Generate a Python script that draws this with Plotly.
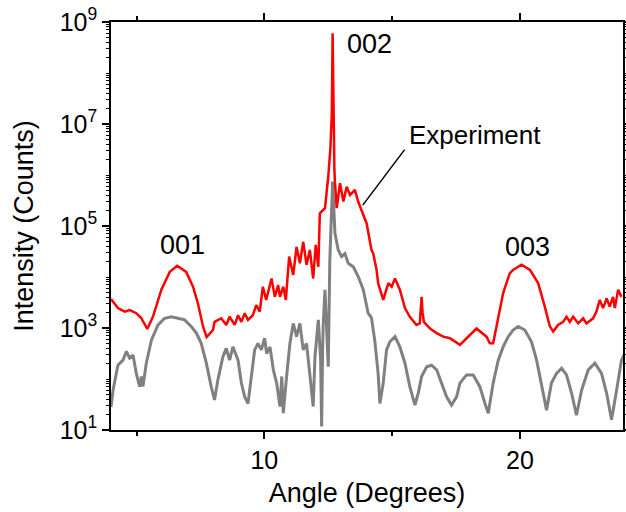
import numpy as np
import plotly.graph_objects as go

# ---- data (angle in degrees, intensity as log10 counts) ----
red_angle = [4.00, 4.27, 4.54, 4.73, 4.99, 5.19, 5.42, 5.64, 5.97, 6.30, 6.59, 6.94, 7.21, 7.40,
             7.60, 7.74, 7.99, 8.05, 8.31, 8.51, 8.64, 8.84, 8.97, 9.10, 9.23, 9.36, 9.55, 9.68,
             9.82, 9.94, 10.07, 10.28, 10.41, 10.54, 10.61, 10.74, 10.84, 10.97, 11.13, 11.26,
             11.39, 11.52, 11.65, 11.78, 11.91, 12.01, 12.11, 12.17, 12.37, 12.50, 12.58, 12.64,
             12.67, 12.70, 12.74, 12.76, 12.83, 12.96, 13.09, 13.22, 13.35, 13.54, 13.67, 13.80,
             14.00, 14.19, 14.26, 14.39, 14.45, 14.65, 14.85, 14.98, 15.11, 15.30, 15.50, 15.69,
             15.95, 16.08, 16.12, 16.15, 16.19, 16.24, 16.48, 16.74, 17.00, 17.26, 17.65, 17.91,
             18.30, 18.69, 18.82, 18.95, 19.15, 19.34, 19.47, 19.60, 19.73, 20.06, 20.39, 20.71,
             20.97, 21.17, 21.30, 21.49, 21.69, 21.82, 21.95, 22.08, 22.28, 22.47, 22.60, 22.86,
             22.99, 23.12, 23.25, 23.39, 23.51, 23.64, 23.71, 23.84, 23.97]
red_log10 = [3.57, 3.39, 3.32, 3.35, 3.29, 3.19, 2.98, 3.22, 3.75, 4.10, 4.22, 4.10, 3.81, 3.48,
             3.03, 2.82, 2.96, 3.12, 3.19, 3.06, 3.22, 3.06, 3.25, 3.12, 3.29, 3.16, 3.25, 3.45,
             3.32, 3.81, 3.55, 3.97, 3.61, 3.84, 3.61, 3.81, 3.55, 4.40, 4.04, 4.59,
             4.27, 4.69, 4.24, 4.53, 3.97, 4.63, 4.20, 5.25, 5.35, 5.97, 6.50, 7.20,
             8.78, 7.00, 6.10, 5.87, 5.35, 5.84, 5.48, 5.77, 5.61, 5.71, 5.48, 5.31,
             5.05, 4.53, 4.46, 4.14, 3.88, 3.55, 3.88, 3.81, 3.97, 3.75, 3.39, 3.22,
             3.06, 3.09, 3.40, 3.61, 3.30, 3.12, 2.99, 2.90, 2.83, 2.80, 2.67, 2.80,
             2.99, 2.83, 2.70, 2.70, 3.22, 3.68, 3.88, 4.07, 4.14, 4.24, 4.14, 3.88,
             3.42, 3.03, 2.93, 3.06, 3.12, 3.22, 3.12, 3.22, 3.09, 3.19, 3.09, 3.19,
             3.32, 3.55, 3.39, 3.58, 3.42, 3.61, 3.39, 3.75, 3.61]

gray_angle = [4.00, 4.08, 4.27, 4.47, 4.60, 4.73, 4.86, 4.99, 5.12, 5.19, 5.25, 5.38, 5.58, 5.84,
              6.10, 6.36, 6.62, 6.88, 7.14, 7.34, 7.53, 7.73, 7.92, 8.05, 8.18, 8.38, 8.51, 8.64,
              8.77, 8.97, 9.10, 9.23, 9.36, 9.49, 9.62, 9.75, 9.88, 10.01, 10.09, 10.22, 10.35,
              10.48, 10.61, 10.68, 10.74, 10.87, 11.00, 11.13, 11.26, 11.39, 11.52, 11.65, 11.78,
              11.91, 11.98, 12.11, 12.20, 12.24, 12.28, 12.30, 12.37, 12.44, 12.50, 12.56, 12.67,
              12.76, 12.89, 13.02, 13.15, 13.28, 13.48, 13.67, 13.87, 14.06, 14.19, 14.32, 14.45,
              14.52, 14.65, 14.78, 14.91, 15.11, 15.30, 15.50, 15.69, 15.89, 16.02, 16.15, 16.35,
              16.54, 16.74, 16.93, 17.13, 17.32, 17.52, 17.65, 17.91, 18.17, 18.43, 18.63, 18.76,
              18.95, 19.15, 19.34, 19.54, 19.73, 19.93, 20.19, 20.45, 20.65, 20.84, 21.04, 21.23,
              21.43, 21.63, 21.82, 22.02, 22.21, 22.41, 22.67, 22.93, 23.19, 23.39, 23.58, 23.78,
              23.97, 24.10]
gray_log10 = [1.45, 1.78, 2.27, 2.37, 2.54, 2.41, 2.47, 2.11, 1.85, 2.05, 1.85, 2.31, 2.76, 3.06,
              3.19, 3.22, 3.19, 3.16, 3.03, 2.90, 2.70, 2.31, 1.85, 1.59, 1.98, 2.44, 2.60, 2.37,
              2.63, 2.37, 1.92, 1.65, 1.52, 2.05, 2.57, 2.70, 2.57, 2.80, 2.50, 2.63, 2.18,
              1.92, 1.46, 2.05, 1.33, 2.05, 2.70, 3.09, 2.83, 3.09, 2.57, 2.70, 2.05,
              1.46, 2.44, 3.16, 2.40, 1.07, 2.60, 3.03, 3.75, 3.00, 2.24, 4.33, 5.87,
              4.86, 4.53, 4.40, 4.46, 4.27, 4.20, 4.01, 3.75, 3.29, 3.20, 2.75, 2.11,
              1.52, 1.92, 2.57, 2.73, 2.83, 2.63, 2.31, 1.85, 1.49, 1.72, 2.05, 2.24,
              2.27, 2.18, 1.92, 1.65, 1.49, 1.65, 1.92, 2.08, 2.08, 1.85, 1.52, 1.33,
              1.92, 2.37, 2.63, 2.83, 2.96, 3.03, 2.96, 2.73, 2.37, 1.92, 1.39, 1.92,
              2.11, 2.21, 2.08, 1.72, 1.29, 1.78, 2.18, 2.31, 2.11, 1.72, 1.20, 1.78,
              2.37, 2.50]

y_tick_exponents = [1, 3, 5, 7, 9]
y_tick_labels = ["10<sup>1</sup>", "10<sup>3</sup>", "10<sup>5</sup>", "10<sup>7</sup>", "10<sup>9</sup>"]
x_tick_values = [10, 20]
x_minor_values = [5, 15]

peak_labels = ["001", "002", "003"]
peak_label_x = [6.78, 14.13, 20.31]
peak_label_logy = [4.63, 8.57, 4.58]

FONT = "Arial, Liberation Sans, sans-serif"

red_I = np.power(10.0, red_log10)
gray_I = np.power(10.0, gray_log10)

fig = go.Figure()
fig.add_trace(go.Scatter(x=gray_angle, y=gray_I, mode="lines",
                         line=dict(color="#808080", width=3), showlegend=False))
fig.add_trace(go.Scatter(x=red_angle, y=red_I, mode="lines",
                         line=dict(color="#ff0000", width=2.5), showlegend=False))

y_minor = [m * 10.0 ** d for d in range(1, 9) for m in range(1, 10) if not (m == 1 and d % 2 == 1)]
y_minor.append(1e9)

fig.update_layout(
    width=626, height=512,
    margin=dict(l=111, r=3, t=22, b=82),
    paper_bgcolor="white", plot_bgcolor="white",
    font=dict(family=FONT, color="black", size=25),
    showlegend=False,
)
fig.update_xaxes(
    range=[4, 24.03], showgrid=False, zeroline=False, automargin=False,
    showline=True, linecolor="black", linewidth=1.5, mirror="ticks",
    ticks="outside", ticklen=7, tickwidth=1.5, tickcolor="black",
    tickmode="array", tickvals=x_tick_values, ticklabeloverflow="allow",
    tickfont=dict(size=25, family=FONT),
    minor=dict(tickmode="array", tickvals=x_minor_values, ticks="outside", ticklen=4,
               tickwidth=1.5, tickcolor="black", showgrid=False),
    title=dict(text="Angle (Degrees)", font=dict(size=27, family=FONT), standoff=10),
)
fig.update_yaxes(
    type="log", range=[1, 9], showgrid=False, zeroline=False, automargin=False,
    showline=True, linecolor="black", linewidth=1.5, mirror="ticks",
    ticks="outside", ticklen=7, tickwidth=1.5, tickcolor="black",
    tickmode="array", tickvals=[10.0 ** e for e in y_tick_exponents], ticktext=y_tick_labels,
    ticklabeloverflow="allow",
    tickfont=dict(size=25, family=FONT),
    minor=dict(tickmode="array", tickvals=y_minor, ticks="outside", ticklen=3.5,
               tickwidth=1.2, tickcolor="black", showgrid=False),
    title=dict(text="Intensity (Counts)", font=dict(size=27, family=FONT), standoff=18),
)

for t, xv, yv in zip(peak_labels, peak_label_x, peak_label_logy):
    fig.add_annotation(x=xv, y=yv, xref="x", yref="y", text=t, showarrow=False,
                       font=dict(size=27, family=FONT, color="black"))

fig.add_annotation(x=18.24, y=6.78, xref="x", yref="y", text="Experiment", showarrow=False,
                   font=dict(size=26, family=FONT, color="black"))
fig.add_annotation(x=13.85, y=5.41, xref="x", yref="y", text="", showarrow=True,
                   arrowhead=0, arrowwidth=1.5, arrowcolor="black", ax=43, ay=-57)

# remove the browser's default 8px body margin so the 626x512 figure fills the window
fig.write_html("out.html", config={"displayModeBar": False},
               post_script="document.body.style.margin='0';document.body.style.overflow='hidden';")
